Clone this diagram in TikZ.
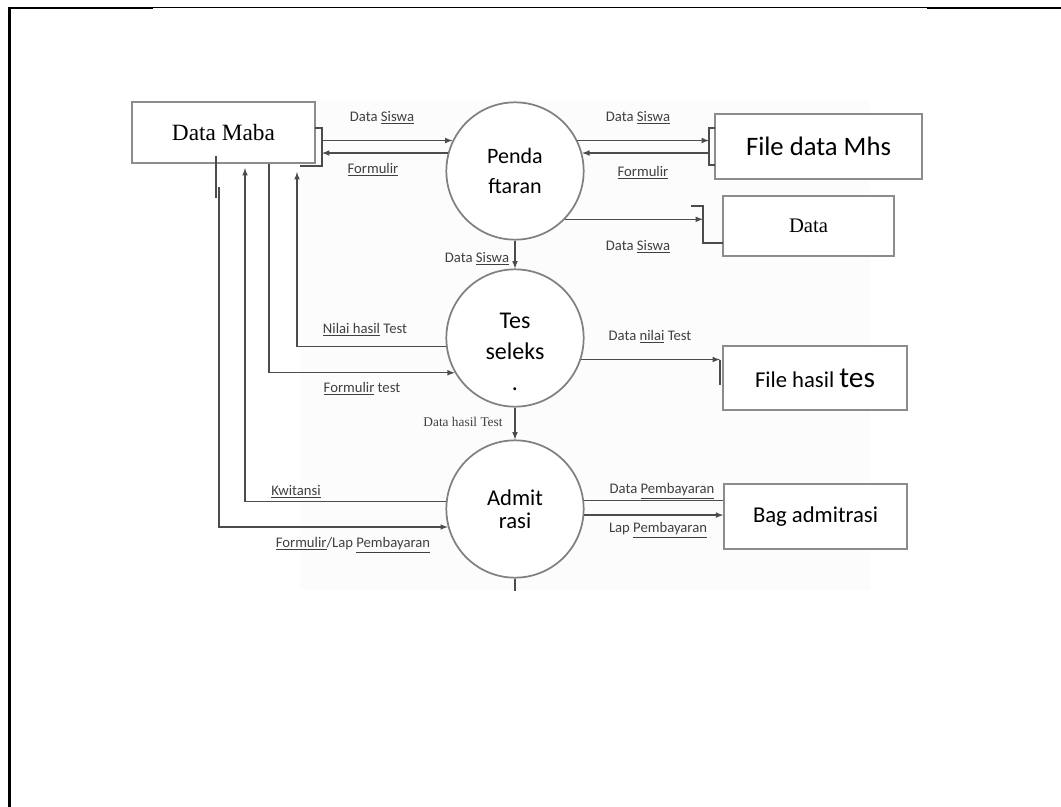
\documentclass[tikz,border=0pt]{standalone}
\usepackage{fontspec}
\setmainfont{Liberation Serif}
\newfontfamily\calibri{Carlito}
\usepackage{tikz}

\tikzset{
	store/.style={draw=black!45, line width=1.4pt, fill=white, inner sep=0pt},
	proc/.style={circle, draw=black!50, line width=1.3pt, fill=white, minimum size=103pt, inner sep=0pt, align=center},
	flow/.style={draw=black!70, line width=0.9pt},
	lbl/.style={font=\calibri\fontsize{11}{13}\selectfont, text=black!75, inner sep=0pt},
}

\begin{document}
\begin{tikzpicture}[x=0.75pt, y=-0.75pt, >=latex]
	\useasboundingbox (0,0) rectangle (1061,807);
	\draw [line width=0.9pt] (9,7.5) -- (1061,7.5);
	\draw [line width=1.8pt] (8,8) -- (153,8);
	\draw [line width=1.8pt] (927,8) -- (1061,8);
	\draw [line width=2pt] (9.5,7) -- (9.5,807);
	\fill [black!1] (300,100) rectangle (870,590);

	\node [store, minimum width=137pt, minimum height=46pt, font=\fontsize{17.5}{20}\selectfont] (maba) at (223.5,132.5) {Data Maba};
	\node [store, minimum width=155pt, minimum height=49pt, font=\calibri\fontsize{20}{24}\selectfont] (mhs) at (818.5,146.5) {File data Mhs};
	\node [store, minimum width=128pt, minimum height=45pt, font=\fontsize{15.5}{18}\selectfont] (dat) at (808.5,226) {Data};
	\node [store, minimum width=138pt, minimum height=48pt, font=\calibri\fontsize{17}{20}\selectfont] (hasil) at (815,378) {File hasil {\fontsize{22}{24}\selectfont tes}};
	\node [store, minimum width=137pt, minimum height=49pt, font=\calibri\fontsize{17}{20}\selectfont] (bag) at (815.5,516.5) {Bag admitrasi};

	\node [proc, font=\calibri\fontsize{16.5}{23}\selectfont] (daftar) at (515,171) {Penda\\ftaran};
	\node [proc, font=\calibri\fontsize{18}{23}\selectfont] (tes) at (515,338) {};
	\node [font=\calibri\fontsize{18}{23}\selectfont, align=center] (testxt) at (515,352) {Tes\\seleks\\.};
	\node [proc, font=\calibri\fontsize{17}{17}\selectfont] (adm) at (515,509) {Admit\\rasi};

	% brackets of the stores
	\draw [flow] (315,128) -- (322,128) -- (322,166) -- (300,166);
	\draw [flow] (715,128) -- (709,128) -- (709,165) -- (715,165);
	\draw [flow] (691,206) -- (703,206) -- (703,243) -- (723,243);
	\draw [flow] (720,360) -- (720,385);
	\draw [flow] (216,156) -- (216,198);

	\coordinate (mb) at (322,0);
	\coordinate (fb) at (709,0);
	\coordinate (db) at (703,0);
	\coordinate (hb) at (720,0);
	\coordinate (nh) at (297,0);
	\coordinate (ft) at (269,0);
	\coordinate (kw) at (245,0);
	\coordinate (fl) at (219,187);

	\draw [flow, ->] (daftar.154 -| mb) -- (daftar.154);
	\draw [flow, ->] (daftar.165) -- (daftar.165 -| mb);
	\draw [flow, ->] (daftar.26) -- (daftar.26 -| fb);
	\draw [flow, ->] (daftar.15 -| fb) -- (daftar.15);
	\draw [flow, ->] (daftar.316) -- (daftar.316 -| db);
	\draw [flow, ->] (daftar.south) -- (tes.north);

	\draw [flow, ->, shorten >=6pt] (tes.187) -| (nh |- maba.south);
	\draw [flow, ->] (ft |- maba.south) |- (tes.210);
	\draw [flow, ->] (tes.342) -- (tes.342 -| hb);
	\draw [flow, ->] (tes.south) -- (adm.north);

	\draw [flow, ->, shorten >=3pt] (adm.174) -| (kw |- maba.south);
	\draw [flow, ->] (fl) |- (adm.195);
	\draw [flow] (adm.7) -- (adm.7 -| bag.west);
	\draw [flow, ->] (adm.355) -- (adm.355 -| bag.west);
	\draw [flow] (adm.south) -- ++(0,12);

	\node [lbl] (l1) at (382,118) {Data \underline{Siswa}};
	\node [lbl] (l2) at (373,170) {\underline{Formulir}};
	\node [lbl] (l3) at (638,118) {Data \underline{Siswa}};
	\node [lbl] (l4) at (643,173) {\underline{Formulir}};
	\node [lbl] (l5) at (638,247) {Data \underline{Siswa}};
	\node [lbl] (l6) at (477,259) {Data \underline{Siswa}};
	\node [lbl] (l7) at (365,330) {\underline{Nilai hasil} Test};
	\node [lbl] (l8) at (362,389) {\underline{Formulir} test};
	\node [lbl, font=\fontsize{10}{12}\selectfont] (l9) at (463,422) {Data hasil Test};
	\node [lbl] (l10) at (650,337) {Data \underline{nilai} Test};
	\node [lbl] (l11) at (296,492) {\underline{Kwitansi}};
	\node [lbl] (l12) at (353,545) {\underline{Formulir}/Lap \underline{Pembayaran}};
	\node [lbl] (l13) at (662,491) {Data \underline{Pembayaran}};
	\node [lbl] (l14) at (658,530) {Lap \underline{Pembayaran}};
\end{tikzpicture}
\end{document}
